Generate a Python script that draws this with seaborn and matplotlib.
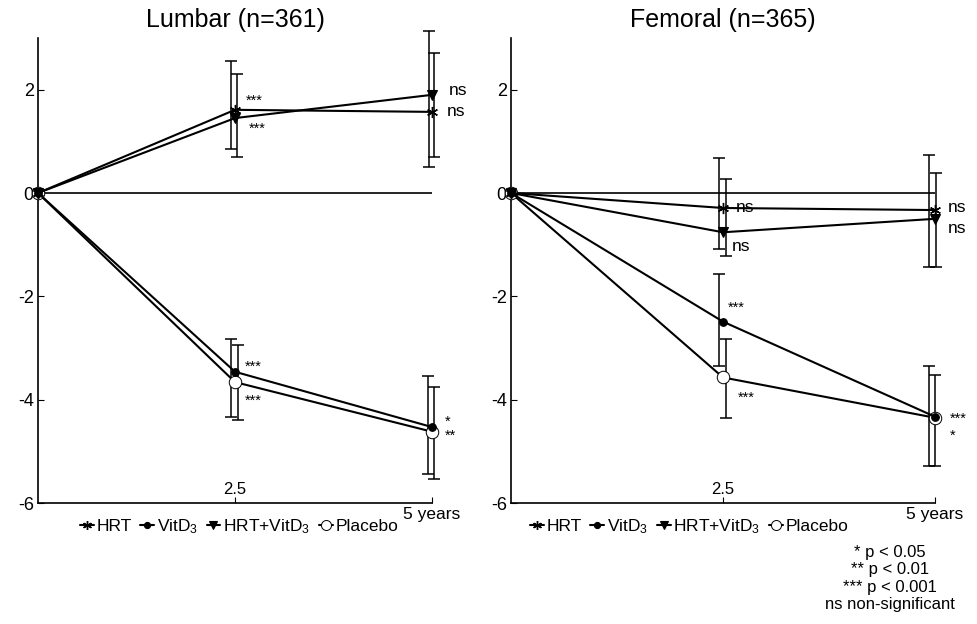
import matplotlib
matplotlib.use("Agg")
import matplotlib.pyplot as plt
import pandas as pd
import seaborn as sns

# time points (years)
YEARS = [0, 2.5, 5]
GROUPS = ["HRT", "VitD$_3$", "HRT+VitD$_3$", "Placebo"]

# Lumbar (n=361): mean change in BMD (%)
LUM_HRT = [0, 1.61, 1.57]
LUM_VITD = [0, -3.46, -4.53]
LUM_COMBO = [0, 1.45, 1.90]
LUM_PLACEBO = [0, -3.66, -4.62]
# error bar ends at 2.5 and 5 years
LUM_HRT_LO, LUM_HRT_HI = [0.85, 0.70], [2.55, 2.71]
LUM_VITD_LO, LUM_VITD_HI = [-4.33, -5.44], [-2.82, -3.54]
LUM_COMBO_LO, LUM_COMBO_HI = [0.70, 0.50], [2.30, 3.13]
LUM_PLACEBO_LO, LUM_PLACEBO_HI = [-4.39, -5.53], [-2.94, -3.75]

# Femoral (n=365)
FEM_HRT = [0, -0.29, -0.33]
FEM_VITD = [0, -2.49, -4.33]
FEM_COMBO = [0, -0.76, -0.50]
FEM_PLACEBO = [0, -3.57, -4.35]
FEM_HRT_LO, FEM_HRT_HI = [-1.09, -1.44], [0.68, 0.74]
FEM_VITD_LO, FEM_VITD_HI = [-3.34, -5.28], [-1.57, -3.34]
FEM_COMBO_LO, FEM_COMBO_HI = [-1.22, -1.44], [0.27, 0.39]
FEM_PLACEBO_LO, FEM_PLACEBO_HI = [-4.35, -5.28], [-2.82, -3.53]

# significance labels: (group, time index, label)
LUM_NOTES = [(0, 1, "***"), (2, 1, "***"), (2, 2, "ns"), (0, 2, "ns"),
             (1, 1, "***"), (3, 1, "***"), (1, 2, "*"), (3, 2, "**")]
FEM_NOTES = [(0, 1, "ns"), (2, 1, "ns"), (0, 2, "ns"), (2, 2, "ns"),
             (1, 1, "***"), (3, 1, "***"), (1, 2, "***"), (3, 2, "*")]

# label offsets in pixels (layout only)
LUM_NOTE_OFF = [(11, 13), (14, -7), (17, 4), (15, 0),
                (10, 9), (10, -15), (13, 9), (13, 0)]
FEM_NOTE_OFF = [(13, 0), (9, -14), (13, 3), (13, -10),
                (5, 18), (15, -16), (15, 2), (15, -14)]

# horizontal shift of each error bar (years), per group and time point
LUM_ERR_SHIFT = [[-0.05, 0.02], [-0.05, -0.05], [0.03, -0.04], [0.04, 0.03]]
FEM_ERR_SHIFT = [[-0.05, -0.07], [-0.05, -0.07], [0.03, 0.01], [0.03, 0.0]]

STYLES = [
    dict(marker=(6, 2, 0), markersize=8, markerfacecolor="black",
         markeredgecolor="black", markeredgewidth=1.0),
    dict(marker="o", markersize=5.5, markerfacecolor="black",
         markeredgecolor="black", markeredgewidth=0.8),
    dict(marker="v", markersize=7, markerfacecolor="black",
         markeredgecolor="black", markeredgewidth=0.8),
    dict(marker="o", markersize=9, markerfacecolor="white",
         markeredgecolor="black", markeredgewidth=0.7),
]
DRAW_ORDER = [3, 1, 0, 2]

sns.set_style("ticks")
plt.rcParams["font.family"] = ["Liberation Sans", "DejaVu Sans"]
plt.rcParams["mathtext.default"] = "regular"
plt.rcParams["text.color"] = "black"
plt.rcParams["axes.edgecolor"] = "black"
plt.rcParams["axes.labelcolor"] = "black"
plt.rcParams["xtick.color"] = "black"
plt.rcParams["ytick.color"] = "black"


def draw_panel(ax, title, means, lows, highs, shifts, notes, note_off, legend_x):
    ax.axhline(0, color="black", lw=1.2, zorder=1)
    for g in DRAW_ORDER:
        df = pd.DataFrame({"year": YEARS, "value": means[g]})
        sns.lineplot(data=df, x="year", y="value", ax=ax, color="black",
                     lw=1.5, label=GROUPS[g], zorder=3, clip_on=False,
                     **STYLES[g])
        xs = [YEARS[i + 1] + shifts[g][i] for i in range(2)]
        mids = [(lo + hi) / 2 for lo, hi in zip(lows[g], highs[g])]
        errs = [(hi - lo) / 2 for lo, hi in zip(lows[g], highs[g])]
        eb = ax.errorbar(xs, mids, yerr=errs, fmt="none", ecolor="black",
                         elinewidth=1.1, capsize=4, capthick=1.1, zorder=2)
        for art in eb.lines[1] + eb.lines[2]:
            art.set_clip_on(False)

    for (g, t, txt), (dx, dy) in zip(notes, note_off):
        small = txt != "ns"
        ax.annotate(txt, xy=(YEARS[t], means[g][t]),
                    xytext=(dx, dy - (4 if small else 0)),
                    textcoords="offset pixels", ha="left", va="center",
                    fontsize=10.5 if small else 12.5)

    ax.set_xlim(0, 5)
    ax.set_ylim(-6, 3)
    ax.set_yticks([-6, -4, -2, 0, 2])
    ax.set_yticklabels(["-6", "-4", "-2", "0", "2"])
    ax.set_xticks([2.5, 5])
    ax.set_xticklabels([])
    ax.tick_params(axis="both", direction="in", length=4, width=0.8,
                   labelsize=13, pad=3)
    ax.set_xlabel("")
    ax.set_ylabel("")
    for s in ["left", "bottom"]:
        ax.spines[s].set_linewidth(1.2)
    sns.despine(ax=ax)
    ax.set_title(title, fontsize=18, pad=8)

    ax.annotate("2.5", xy=(YEARS[1], 0), xycoords=("data", "axes fraction"),
                xytext=(0, 6), textcoords="offset pixels",
                ha="center", va="bottom", fontsize=12)
    ax.annotate("5 years", xy=(YEARS[2], 0), xycoords=("data", "axes fraction"),
                xytext=(0, -4), textcoords="offset pixels",
                ha="center", va="top", fontsize=12.5)

    handles, labels = ax.get_legend_handles_labels()
    order = [labels.index(g) for g in GROUPS]
    ax.legend([handles[i] for i in order], [labels[i] for i in order],
              loc="upper center", bbox_to_anchor=(legend_x, -0.015), ncol=4,
              frameon=False, fontsize=12.5, handlelength=0.8,
              handletextpad=0.15, columnspacing=0.5, borderaxespad=0,
              markerscale=0.8)


fig = plt.figure(figsize=(9.78, 6.24), dpi=100)
ax1 = fig.add_axes([38 / 978, 1 - 503 / 624, (432 - 38) / 978, (503 - 38) / 624])
ax2 = fig.add_axes([511 / 978, 1 - 503 / 624, (935 - 511) / 978, (503 - 38) / 624])

draw_panel(ax1, "Lumbar (n=361)",
           [LUM_HRT, LUM_VITD, LUM_COMBO, LUM_PLACEBO],
           [LUM_HRT_LO, LUM_VITD_LO, LUM_COMBO_LO, LUM_PLACEBO_LO],
           [LUM_HRT_HI, LUM_VITD_HI, LUM_COMBO_HI, LUM_PLACEBO_HI],
           LUM_ERR_SHIFT, LUM_NOTES, LUM_NOTE_OFF, 0.51)
draw_panel(ax2, "Femoral (n=365)",
           [FEM_HRT, FEM_VITD, FEM_COMBO, FEM_PLACEBO],
           [FEM_HRT_LO, FEM_VITD_LO, FEM_COMBO_LO, FEM_PLACEBO_LO],
           [FEM_HRT_HI, FEM_VITD_HI, FEM_COMBO_HI, FEM_PLACEBO_HI],
           FEM_ERR_SHIFT, FEM_NOTES, FEM_NOTE_OFF, 0.42)

fig.text(890 / 978, 1 - 545 / 624,
         "* p < 0.05\n** p < 0.01\n*** p < 0.001\nns non-significant",
         ha="center", va="top", fontsize=12, linespacing=1.2,
         multialignment="center")

fig.savefig("out.png", dpi=100)
